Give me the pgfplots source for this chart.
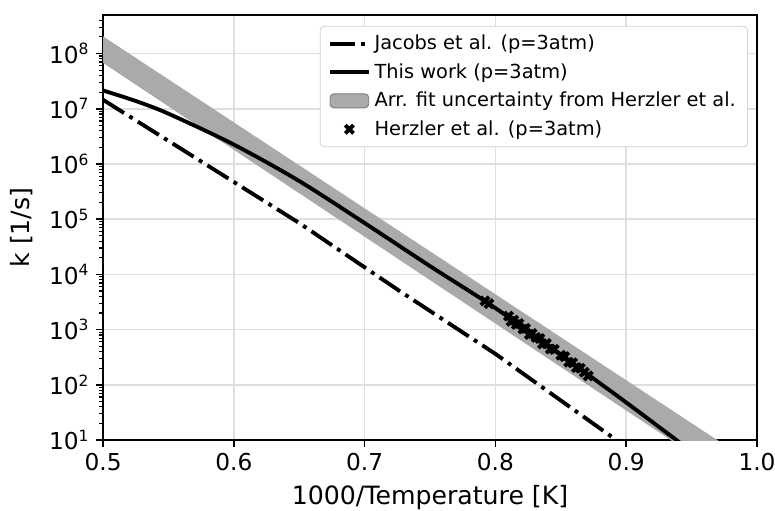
\documentclass[border=0pt]{standalone}
\usepackage{fontspec}
\setmainfont{DejaVu Sans}
\usepackage{pgfplots}
\pgfplotsset{compat=1.18}
\definecolor{bandgray}{RGB}{170,170,170}
\definecolor{gridgray}{RGB}{222,222,222}
\pgfplotsset{
  mylineleg/.style={legend image code/.code={\draw[##1] (0pt,0pt) -- (20pt,0pt);}},
  myboxleg/.style={legend image code/.code={\draw[##1] (0pt,-3.6pt) rectangle (20pt,3.6pt);}},
  mymarkleg/.style={legend image code/.code={\draw[mark repeat=2,mark phase=2,##1] plot coordinates {(0pt,0pt) (10pt,0pt) (20pt,0pt)};}},
}
\begin{document}
\begin{tikzpicture}
\begin{axis}[
  scale only axis, width=337.5pt, height=219.4pt,
  xmin=0.5, xmax=1.0, ymode=log, ymin=10, ymax=5e8,
  xtick={0.5,0.6,0.7,0.8,0.9,1.0},
  xticklabels={0.5,0.6,0.7,0.8,0.9,1.0},
  ytick={1e1,1e2,1e3,1e4,1e5,1e6,1e7,1e8},
  yticklabels={10\textsuperscript{1},10\textsuperscript{2},10\textsuperscript{3},10\textsuperscript{4},10\textsuperscript{5},10\textsuperscript{6},10\textsuperscript{7},10\textsuperscript{8}},
  minor ytick={20,30,40,50,60,70,80,90,200,300,400,500,600,700,800,900,2e3,3e3,4e3,5e3,6e3,7e3,8e3,9e3,2e4,3e4,4e4,5e4,6e4,7e4,8e4,9e4,2e5,3e5,4e5,5e5,6e5,7e5,8e5,9e5,2e6,3e6,4e6,5e6,6e6,7e6,8e6,9e6,2e7,3e7,4e7,5e7,6e7,7e7,8e7,9e7,2e8,3e8,4e8},
  tick pos=left, tick align=outside,
  major tick length=3.5pt, minor tick length=2pt,
  major tick style={black, line width=0.8pt},
  minor tick style={black, line width=0.6pt},
  xticklabel style={font=\fontsize{12}{14}\selectfont},
  yticklabel style={font=\fontsize{12}{14}\selectfont},
  grid=major, major grid style={gridgray, line width=0.8pt},
  axis line style={line width=0.8pt},
  xlabel={1000/Temperature [K]}, ylabel={k [1/s]},
  every axis x label/.style={at={(axis description cs:0.5,-0.136)}, anchor=center, font=\fontsize{13}{15}\selectfont},
  every axis y label/.style={at={(axis description cs:-0.124,0.5)}, rotate=90, anchor=center, font=\fontsize{13}{15}\selectfont},
  legend style={at={(0.986,0.974)}, anchor=north east, draw=gray!35, rounded corners=2pt, fill=white, row sep=1.6pt, inner xsep=4pt, inner ysep=2.5pt, font=\fontsize{10}{12}\selectfont},
  legend cell align=left,
]
\addlegendimage{mylineleg, black, line width=2pt, dash pattern=on 12.8pt off 3.2pt on 2pt off 3.2pt}
\addlegendimage{mylineleg, black, line width=2pt}
\addlegendimage{myboxleg, fill=bandgray, draw=gray, line width=0.5pt}
\addlegendimage{mymarkleg, only marks, mark=x, mark size=3pt, black, line width=2pt}

% uncertainty band
\addplot[fill=bandgray, draw=none, forget plot] coordinates {
  (0.5,2.04e8) (1.0,3.36) (1.0,0.914) (0.5,6.76e7)
} -- cycle;

% Jacobs et al.
\addplot[black, line width=2pt, dash pattern=on 12.8pt off 3.2pt on 2pt off 3.2pt, forget plot] coordinates {
  (0.5,1.45e7) (0.65,8.5e4) (0.7267,5.0e3) (0.8,363) (0.8924,10) (0.95,1.05)
};

% This work
\addplot[black, line width=2pt, smooth, forget plot] coordinates {
  (0.5,2.14e7) (0.525,1.38e7) (0.55,8.13e6) (0.60,2.24e6) (0.65,4.9e5)
  (0.70,8.5e4) (0.75,1.41e4) (0.80,2.45e3) (0.85,347) (0.90,47.9) (0.95,6.2)
};

% Herzler et al.
\addplot[only marks, mark=x, mark size=3pt, black, line width=2pt, forget plot] coordinates {
  (0.792,3300) (0.795,2950)
  (0.810,1760) (0.812,1410) (0.814,1480) (0.816,1230) (0.818,1290)
  (0.821,1020) (0.823,1050) (0.826,815) (0.828,850) (0.831,720)
  (0.834,690) (0.836,550) (0.839,562) (0.842,447) (0.845,437)
  (0.850,343) (0.853,324) (0.856,257) (0.859,251) (0.862,204)
  (0.865,200) (0.868,169) (0.871,145)
};

\legend{Jacobs et al. (p=3atm), This work (p=3atm), Arr. fit uncertainty from Herzler et al., Herzler et al. (p=3atm)}
\end{axis}
\pgfresetboundingbox
\path ([xshift=-53.2pt,yshift=-36.6pt]current axis.south west) rectangle ([xshift=9.3pt,yshift=7.7pt]current axis.north east);
\end{tikzpicture}
\end{document}
